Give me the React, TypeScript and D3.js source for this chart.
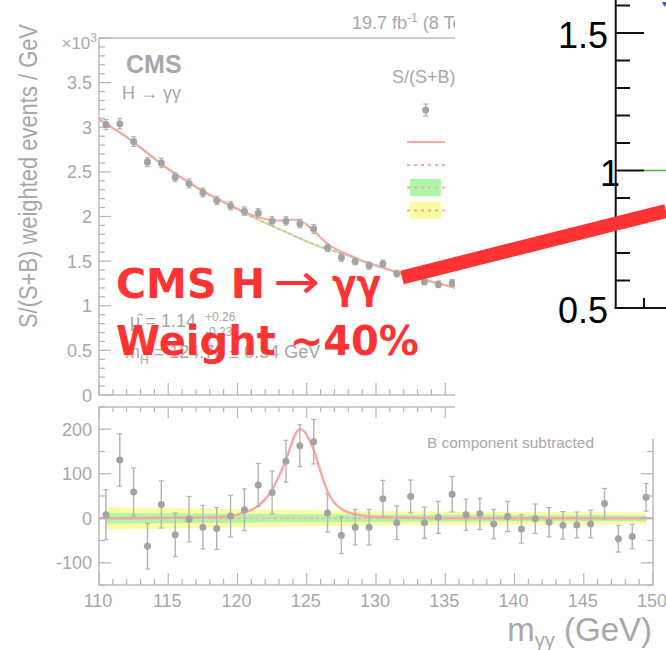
import React from 'react';
import * as d3 from 'd3';

// ---------- data ----------
const binCenters = [110.5, 111.5, 112.5, 113.5, 114.5, 115.5, 116.5, 117.5, 118.5, 119.5,
  120.5, 121.5, 122.5, 123.5, 124.5, 125.5, 126.5, 127.5, 128.5, 129.5,
  130.5, 131.5, 132.5, 133.5, 134.5, 135.5, 136.5, 137.5, 138.5, 139.5,
  140.5, 141.5, 142.5, 143.5, 144.5, 145.5, 146.5, 147.5, 148.5, 149.5];

// top panel: S/(S+B) weighted events / GeV (x10^3), visible bins only
const topValues = [3.03, 3.04, 2.84, 2.61, 2.60, 2.44, 2.37, 2.27, 2.18, 2.12,
  2.06, 2.04, 1.95, 1.95, 1.92, 1.86, 1.65, 1.54, 1.50, 1.45,
  1.47, 1.36, 1.33, 1.27, 1.24, 1.255];

// bottom panel: background subtracted
const residValues = [8, 131, 59, -63, 31, -37, -2, -20, -23, 5,
  19, 75, 58, 128, 163, 172, 12, -38, -20, -20,
  44, -10, 49, -10, 2, 54, 8, 10, -13, 4,
  -24, -1, -9, -16, -15, -13, 33, -46, -41, 47];
const residErrors = [56, 59, 54, 51, 53, 49, 51, 49, 47, 47,
  47, 48, 48, 47, 47, 50, 43, 41, 40, 40,
  41, 38, 37, 35, 36, 40, 35, 35, 33, 34,
  32, 33, 33, 31, 29, 31, 34, 30, 27, 31];

// background fit (x10^3)
const bkgMass = [110, 111, 112, 113, 114, 115, 116, 117, 118, 119, 120, 121, 122, 123,
  124, 125, 126, 127, 128, 129, 130, 131, 132, 133, 134, 135, 136, 137];
const bkgValues = [3.09, 2.99, 2.89, 2.77, 2.65, 2.53, 2.43, 2.33, 2.24, 2.16, 2.08, 2.00, 1.93, 1.86,
  1.79, 1.72, 1.66, 1.61, 1.56, 1.50, 1.45, 1.40, 1.35, 1.31, 1.27, 1.23, 1.19, 1.15];

// signal component (events / GeV)
const sigMass = [110, 114, 116, 118, 119, 119.5, 120, 120.5, 121, 121.5, 122, 122.5, 123, 123.5,
  124, 124.3, 124.55, 124.8, 125, 125.5, 126, 126.5, 127, 127.5, 128, 129, 130, 132, 135, 150];
const sigValues = [0, 0.5, 1, 2, 3, 4.5, 8, 13, 19, 28, 43, 64, 95, 131,
  176, 195, 200, 196, 187, 154, 105, 60, 34, 21, 13, 6, 3, 1, 0, 0];

// uncertainty bands on the background (bottom panel)
const bandMass = [110.5, 120, 130, 140, 149.5];
const band1Sigma = [12, 10, 8, 7, 7];
const band2Sigma = [25, 20, 16, 14, 13];

const topTickLabels = ['0', '0.5', '1', '1.5', '2', '2.5', '3', '3.5'];
const botTickLabels = ['-100', '0', '100', '200'];
const xTickLabels = ['110', '115', '120', '125', '130', '135', '140', '145', '150'];
const rightTickLabels = ['0.5', '1', '1.5'];

// ---------- style ----------
const TXT = '#a8a8a8';
const FRAME = '#b4b4b4';
const PT = '#a3a3a3';
const ERR = '#b3b3b3';
const PINK = '#ffa3a3';
const GREEN = '#aef6aa';
const YELLOW = '#fbfba2';
const RED = '#ff3333';
const FONT = '"Liberation Sans", Arial, Helvetica, sans-serif';

const X0 = 99, X1 = 653;
const TY0 = 38, TY1 = 395;
const BY0 = 407, BY1 = 585;

function interp(xs: number[], ys: number[]) {
  return (v: number) => {
    if (v <= xs[0]) return ys[0];
    if (v >= xs[xs.length - 1]) return ys[ys.length - 1];
    const i = d3.bisectRight(xs, v);
    const t = (v - xs[i - 1]) / (xs[i] - xs[i - 1]);
    return ys[i - 1] + t * (ys[i] - ys[i - 1]);
  };
}

export default function App() {
  const x = d3.scaleLinear().domain([110, 150]).range([X0, X1]);
  const yT = d3.scaleLinear().domain([0, 4]).range([TY1, TY0]);
  const yB = d3.scaleLinear().domain([-150, 250]).range([BY1, BY0]);
  const yR = d3.scaleLinear().domain([0.5, 1.5]).range([308, 33]);

  const bkgF = interp(bkgMass, bkgValues);
  const sigF = interp(sigMass, sigValues);

  const grid = Array.from(new Set([...bkgMass, ...sigMass.filter(m => m <= 137)])).sort((a, b) => a - b);
  const sbTop = d3.line<number>().x(m => x(m)).y(m => yT(bkgF(m) + sigF(m) / 1000)).curve(d3.curveMonotoneX)(grid) || '';
  const bTop = d3.line<number>().x(m => x(m)).y(m => yT(bkgF(m))).curve(d3.curveMonotoneX)(bkgMass) || '';
  const sigBot = d3.line<number>().x(m => x(m)).y(m => yB(sigF(m))).curve(d3.curveMonotoneX)(sigMass) || '';

  const bandIdx = bandMass.map((_, i) => i);
  const area2 = d3.area<number>().x(i => x(bandMass[i])).y0(i => yB(-band2Sigma[i])).y1(i => yB(band2Sigma[i]))(bandIdx) || '';
  const area1 = d3.area<number>().x(i => x(bandMass[i])).y0(i => yB(-band1Sigma[i])).y1(i => yB(band1Sigma[i]))(bandIdx) || '';

  const massTicks = d3.range(110, 150.5, 1);
  const topYTicks = d3.range(0, 40.5, 1).map(v => v / 10);
  const botYTicks = d3.range(-150, 251, 50);
  const rightMinor = d3.range(5, 17, 1).map(v => v / 10);

  const errBar = (cx: number, cy: number, up: number, dn: number, key: string) => (
    <g key={key}>
      <line x1={cx} x2={cx} y1={up} y2={dn} stroke={ERR} strokeWidth={1.4} />
      <line x1={cx - 2.5} x2={cx + 2.5} y1={up} y2={up} stroke={ERR} strokeWidth={1.2} />
      <line x1={cx - 2.5} x2={cx + 2.5} y1={dn} y2={dn} stroke={ERR} strokeWidth={1.2} />
      <circle cx={cx} cy={cy} r={3.5} fill={PT} />
    </g>
  );

  return (
    <svg width={666} height={650} style={{ position: 'absolute', left: 0, top: 0, background: '#fff' }}
      fontFamily={FONT}>
      <defs>
        <clipPath id="topClip"><rect x={X0} y={TY0} width={X1 - X0} height={TY1 - TY0} /></clipPath>
        <clipPath id="botClip"><rect x={X0} y={BY0} width={X1 - X0} height={BY1 - BY0} /></clipPath>
      </defs>

      {/* ===== y axis title ===== */}
      <text transform="translate(37,176) rotate(-90)" textAnchor="middle" fontSize={26} fill={TXT}
        textLength={304} lengthAdjust="spacingAndGlyphs">S/(S+B) weighted events / GeV</text>

      {/* ===== top panel ===== */}
      <text x={352} y={29} fontSize={18} fill={TXT}>19.7 fb<tspan fontSize={12} dy={-7}>-1</tspan><tspan dy={7}> (8 TeV)</tspan></text>
      <rect x={X0} y={TY0} width={X1 - X0} height={TY1 - TY0} fill="none" stroke={FRAME} strokeWidth={1.3} />
      {topYTicks.map((v, i) => {
        const major = i % 5 === 0;
        return <line key={'tyt' + i} x1={X0} x2={X0 + (major ? 12 : 6)} y1={yT(v)} y2={yT(v)} stroke={FRAME} strokeWidth={1.2} />;
      })}
      {massTicks.map((m, i) => {
        const major = i % 5 === 0;
        return <line key={'txt' + i} x1={x(m)} x2={x(m)} y1={TY1} y2={TY1 - (major ? 12 : 6)} stroke={FRAME} strokeWidth={1.2} />;
      })}
      {topTickLabels.map(l => (
        <text key={'tl' + l} x={92} y={yT(+l) + 6.5} textAnchor="end" fontSize={18} fill={TXT}>{l}</text>
      ))}
      <text x={97} y={49} textAnchor="end" fontSize={17} fill={TXT}>×10<tspan fontSize={12} dy={-7}>3</tspan></text>

      <g clipPath="url(#topClip)">
        <path d={bTop} fill="none" stroke={GREEN} strokeWidth={2.2} />
        <path d={bTop} fill="none" stroke={PINK} strokeWidth={1.6} strokeDasharray="3,3" />
        <path d={sbTop} fill="none" stroke={PINK} strokeWidth={2} />
        {topValues.map((v, i) => {
          const e = residErrors[i] / 1000;
          return errBar(x(binCenters[i]), yT(v), yT(v + e), yT(v - e), 'tp' + i);
        })}
      </g>

      <text x={126} y={73} fontSize={25} fontWeight="bold" fill={TXT}>CMS</text>
      <text x={122} y={99} fontSize={18} fill={TXT}>H → γγ</text>

      {/* legend */}
      <text x={392} y={83} fontSize={18} fill={TXT}>S/(S+B) weighted data</text>
      {errBar(425.7, 110, 104, 116, 'leg')}
      <line x1={407} x2={445} y1={142} y2={142} stroke={PINK} strokeWidth={2} />
      <line x1={407} x2={445} y1={165} y2={165} stroke={PINK} strokeWidth={2} strokeDasharray="3,4" />
      <rect x={410} y={179} width={31} height={17} fill={GREEN} />
      <line x1={407} x2={445} y1={187.5} y2={187.5} stroke={PINK} strokeWidth={2} strokeDasharray="3,4" />
      <rect x={410} y={202} width={31} height={17} fill={YELLOW} />
      <line x1={407} x2={445} y1={210.5} y2={210.5} stroke={PINK} strokeWidth={2} strokeDasharray="3,4" />

      {/* fit results */}
      <text x={130} y={327} fontSize={18} fill={TXT}>μ̂ = 1.14</text>
      <text x={205} y={321} fontSize={12} fill={TXT}>+0.26</text>
      <text x={205} y={336} fontSize={12} fill={TXT}>-0.23</text>
      <text x={125} y={358} fontSize={18} fill={TXT}>m<tspan fontSize={12} dy={6}>H</tspan><tspan dy={-6}> = 124.70 ± 0.34 GeV</tspan></text>

      {/* ===== bottom panel ===== */}
      <g clipPath="url(#botClip)">
        <path d={area2} fill={YELLOW} />
        <path d={area1} fill={GREEN} />
        <line x1={x(110.5)} x2={x(149.5)} y1={yB(0)} y2={yB(0)} stroke={PINK} strokeWidth={1.6} strokeDasharray="3,3" />
        <path d={sigBot} fill="none" stroke={PINK} strokeWidth={2.4} />
        {residValues.map((v, i) => {
          const e = residErrors[i];
          return errBar(x(binCenters[i]), yB(v), yB(v + e), yB(v - e), 'bp' + i);
        })}
      </g>
      <rect x={X0} y={BY0} width={X1 - X0} height={BY1 - BY0} fill="none" stroke={FRAME} strokeWidth={1.3} />
      {botYTicks.map((v, i) => {
        const major = v % 100 === 0;
        const yy = yB(v);
        return (
          <g key={'byt' + i}>
            <line x1={X0} x2={X0 + (major ? 12 : 6)} y1={yy} y2={yy} stroke={FRAME} strokeWidth={1.2} />
            <line x1={X1} x2={X1 - (major ? 12 : 6)} y1={yy} y2={yy} stroke={FRAME} strokeWidth={1.2} />
          </g>
        );
      })}
      {massTicks.map((m, i) => {
        const major = i % 5 === 0;
        return (
          <g key={'bxt' + i}>
            <line x1={x(m)} x2={x(m)} y1={BY1} y2={BY1 - (major ? 12 : 6)} stroke={FRAME} strokeWidth={1.2} />
            <line x1={x(m)} x2={x(m)} y1={BY0} y2={BY0 + (major ? 11 : 5)} stroke={FRAME} strokeWidth={1.2} />
          </g>
        );
      })}
      {botTickLabels.map(l => (
        <text key={'bl' + l} x={92} y={yB(+l) + 6.5} textAnchor="end" fontSize={18} fill={TXT}>{l}</text>
      ))}
      {xTickLabels.map(l => (
        <text key={'xl' + l} x={x(+l) - 1} y={607} textAnchor="middle" fontSize={18} fill={TXT}>{l}</text>
      ))}
      <text x={652} y={641} textAnchor="end" fontSize={33} fill={TXT}>m<tspan fontSize={20} dy={6}>γγ</tspan><tspan dy={-6}> (GeV)</tspan></text>

      {/* ===== overlapping chart on the right ===== */}
      <rect x={455} y={0} width={211} height={439} fill="#fff" />
      <text x={427} y={448} fontSize={15} fill={TXT} textLength={167} lengthAdjust="spacingAndGlyphs">B component subtracted</text>

      <line x1={644} x2={666} y1={yR(1)} y2={yR(1)} stroke="#55bb44" strokeWidth={1.6} />
      <line x1={615.7} x2={615.7} y1={0} y2={309} stroke="#111" strokeWidth={2} />
      <line x1={614.7} x2={666} y1={308} y2={308} stroke="#111" strokeWidth={2} />
      <line x1={644} x2={644} y1={308} y2={298} stroke="#111" strokeWidth={2} />
      {rightMinor.map((v, i) => {
        const major = i % 5 === 0;
        return <line key={'rt' + i} x1={615.7} x2={major ? 644 : 630} y1={yR(v)} y2={yR(v)} stroke="#111" strokeWidth={2} />;
      })}
      {rightTickLabels.map(l => (
        <text key={'rl' + l} x={l === '1' ? 620 : 608} y={yR(+l) + 15} textAnchor="end" fontSize={36} fill="#000">{l}</text>
      ))}
      <path d="M662,2 L667,2 L664.5,7 Z" fill="#3355dd" />

      {/* ===== red annotation ===== */}
      <line x1={402} y1={277.5} x2={666} y2={211} stroke={RED} strokeWidth={14} />
      <g fontFamily='"DejaVu Sans", sans-serif' fontWeight="bold" fill={RED}>
        <text x={116} y={298} fontSize={41}>CMS H</text>
        <text x={273} y={298} fontSize={48} fontWeight="normal" textLength={47} lengthAdjust="spacingAndGlyphs">→</text>
        <text x={332} y={298} fontSize={41} textLength={49} lengthAdjust="spacingAndGlyphs">γγ</text>
        <text x={116} y={355} fontSize={40}>Weight ~40%</text>
      </g>
    </svg>
  );
}
